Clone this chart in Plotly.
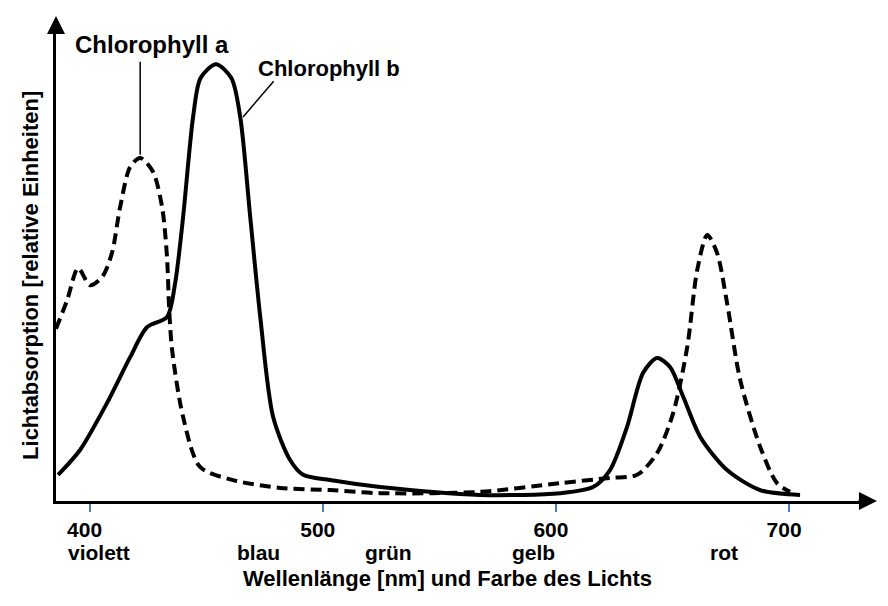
import plotly.graph_objects as go

# Wavelength (nm) and relative absorption
chl_a_nm = [385.6, 390.4, 395.1, 400.2, 405.4, 409.6, 413.1, 417.4, 421.7, 427.2, 431.1,
            433.2, 434.1, 435.4, 440.1, 447.4, 461.5, 481.7, 503.1, 524.6, 567.5, 601.8,
            623.2, 634.8, 643.4, 650.3, 656.3, 660.6, 664.9, 669.1, 673.4, 679.0, 687.6,
            694.8, 700.4]
chl_a_abs = [39.5, 46.1, 53.4, 49.5, 51.4, 56.9, 67.4, 76.6, 78.7, 75.5, 67.4,
             56.0, 44.5, 34.6, 19.3, 7.8, 4.8, 3.0, 2.5, 1.8, 2.1, 4.1,
             5.3, 6.0, 11.0, 20.2, 35.3, 53.0, 61.0, 56.9, 45.4, 27.8, 12.4,
             4.1, 2.1]

chl_b_nm = [386.5, 395.9, 407.5, 417.4, 424.7, 433.2, 436.7, 440.1, 444.4, 447.6, 454.2,
            460.8, 464.6, 468.9, 473.2, 478.7, 486.0, 491.6, 503.1, 524.6, 567.5, 601.8,
            615.9, 623.2, 630.5, 637.4, 643.4, 649.0, 654.6, 661.9, 673.4, 687.6, 704.7]
chl_b_abs = [6.0, 11.7, 22.5, 33.0, 39.9, 42.2, 50.0, 65.1, 88.1, 97.0, 100.2,
             97.0, 88.1, 65.1, 42.2, 19.3, 9.4, 6.0, 4.8, 3.2, 1.4, 1.8,
             3.2, 7.1, 17.0, 29.4, 32.8, 30.7, 23.9, 14.7, 7.1, 2.5, 1.4]

tick_vals = [400, 500, 600, 700]
tick_text = ["400", "500", "600", "700"]

color_names = ["violett", "blau", "grün", "gelb", "rot"]
color_nm = [404.1, 472.5, 528.2, 590.4, 672.1]

FONT = "Liberation Sans"

fig = go.Figure()
fig.add_trace(go.Scatter(x=chl_a_nm, y=chl_a_abs, mode="lines", name="Chlorophyll a",
                         line=dict(color="black", width=4, dash="11px,6px", shape="spline", smoothing=0.8),
                         cliponaxis=False))
fig.add_trace(go.Scatter(x=chl_b_nm, y=chl_b_abs, mode="lines", name="Chlorophyll b",
                         line=dict(color="black", width=4, shape="spline", smoothing=0.8),
                         cliponaxis=False))

annotations = []
# axis arrows
annotations.append(dict(xref="paper", yref="paper", x=1.0211, y=0, ax=-20, ay=0, text="",
                        showarrow=True, arrowhead=2, arrowsize=1.8, arrowwidth=2, arrowcolor="black"))
annotations.append(dict(xref="paper", yref="paper", x=0, y=1.0297, ax=0, ay=16, text="",
                        showarrow=True, arrowhead=2, arrowsize=1.8, arrowwidth=2, arrowcolor="black"))
# leader lines
annotations.append(dict(xref="x", yref="y", axref="x", ayref="y", x=421.7, y=79.4, ax=421.7, ay=101.1,
                        text="", showarrow=True, arrowhead=0, arrowwidth=1.5, arrowcolor="black"))
annotations.append(dict(xref="x", yref="y", axref="x", ayref="y", x=465.8, y=88.1, ax=479.5, ay=96.6,
                        text="", showarrow=True, arrowhead=0, arrowwidth=1.5, arrowcolor="black"))
# series labels
annotations.append(dict(xref="x", yref="y", x=426.8, y=104.6, text="Chlorophyll a", showarrow=False,
                        font=dict(family=FONT, size=24, color="black", weight="bold")))
annotations.append(dict(xref="x", yref="y", x=502.7, y=99.3, text="Chlorophyll b", showarrow=False,
                        font=dict(family=FONT, size=22, color="black", weight="bold")))
# color names
for name, nm in zip(color_names, color_nm):
    annotations.append(dict(xref="x", yref="paper", x=nm, y=0, yshift=-51, yanchor="middle",
                            text=name, showarrow=False,
                            font=dict(family=FONT, size=21, color="black", weight="bold")))
# axis titles
annotations.append(dict(xref="paper", yref="paper", x=0.487, y=0, yshift=-77, yanchor="middle",
                        text="Wellenlänge [nm] und Farbe des Lichts", showarrow=False,
                        font=dict(family=FONT, size=22, color="black", weight="bold")))
annotations.append(dict(xref="paper", yref="paper", x=-0.0311, y=0.48, textangle=-90,
                        xanchor="center", yanchor="middle",
                        text="Lichtabsorption [relative Einheiten]", showarrow=False,
                        font=dict(family=FONT, size=22, color="black", weight="bold")))

fig.update_layout(
    width=888, height=606,
    margin=dict(l=48, r=36, t=22, b=113),
    paper_bgcolor="white", plot_bgcolor="white",
    showlegend=False,
    annotations=annotations,
    xaxis=dict(range=[385.6, 730.4], showgrid=False, zeroline=False,
               showline=True, linecolor="black", linewidth=2.5,
               tickvals=tick_vals, ticktext=tick_text, ticks="outside", ticklen=8,
               tickwidth=2, tickcolor="#4a7ebb", ticklabelshift=-5,
               tickfont=dict(family=FONT, size=21, color="black", weight="bold")),
    yaxis=dict(range=[0, 108.03], showgrid=False, zeroline=False, showticklabels=False,
               showline=True, linecolor="black", linewidth=2.5, ticks=""),
)

fig.write_html("out.html")
